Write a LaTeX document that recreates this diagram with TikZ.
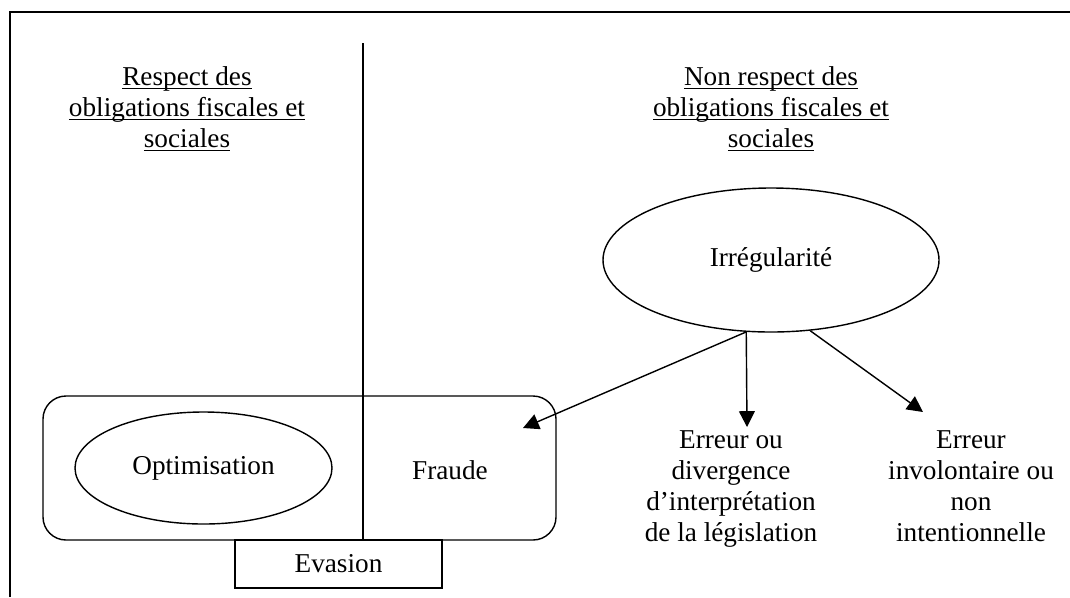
\documentclass[tikz,border=0pt]{standalone}
\usepackage{fontspec}
\setmainfont{Liberation Serif}
\usepackage{tikz}
\usetikzlibrary{shapes.geometric, arrows.meta, positioning}
\newcommand{\ulined}[1]{\setbox0\hbox{#1}\rlap{\rule[-2pt]{\wd0}{0.9pt}}\box0}
\tikzstyle{bubble} = [ellipse, draw=black, line width=0.8pt, inner sep=0pt]
\tikzstyle{heading} = [align=center]
\tikzstyle{label} = [align=center]
\tikzstyle{arrow} = [line width=0.8pt, -{Triangle[length=9pt, width=9pt]}]

\begin{document}
\begin{tikzpicture}[font=\fontsize{15.5}{17.6}\selectfont]
    \useasboundingbox (0,0) rectangle (21.4,-11.94);
    % Frame
    \draw [line width=1.1pt] (0.2,-11.94) -- (0.2,-0.24) -- (21.4,-0.24);

    % Headings
    \node (resp) at (3.74,-2.18) [heading] {\ulined{Respect des}\\\ulined{obligations fiscales et}\\\ulined{sociales}};
    \node (nonresp) at (15.42,-2.18) [heading] {\ulined{Non respect des}\\\ulined{obligations fiscales et}\\\ulined{sociales}};

    % Evasion block
    \node (evasion) at (6.77,-11.28) [rectangle, draw, line width=0.8pt, minimum width=4.14cm, minimum height=0.96cm] {Evasion};
    \node (block) at (5.99,-9.36) [rectangle, draw, line width=0.8pt, rounded corners=0.46cm, minimum width=10.26cm, minimum height=2.88cm] {};
    \coordinate (divtop) at (7.26,-0.86);
    \coordinate (divbot) at (7.26,-10.8);
    \draw [line width=0.8pt] (divtop) -- (divbot);
    \node (optim) at (4.07,-9.36) [bubble, minimum width=5.14cm, minimum height=2.24cm] {Optimisation};
    \node (fraude) at (9.0,-9.4) {Fraude};

    % Irregularite and outcomes
    \node (irreg) at (15.42,-5.2) [bubble, minimum width=6.72cm, minimum height=2.88cm] {Irrégularité};
    \node (erreur) at (14.62,-9.82) [label] {Erreur ou\\divergence\\d’interprétation\\de la législation\strut};
    \node (involont) at (19.42,-9.82) [label] {Erreur\\involontaire ou\\non\\intentionnelle\strut};
    \coordinate (tipfraude) at (10.46,-8.56);
    \coordinate (tiperreur) at (14.94,-8.54);
    \coordinate (tipinvol) at (18.46,-8.24);

    % Arrows
    \draw [arrow] (irreg.251) -- (tipfraude);
    \draw [arrow] (irreg.251) -- (tiperreur);
    \draw [arrow] (irreg.299) -- (tipinvol);
\end{tikzpicture}
\end{document}
